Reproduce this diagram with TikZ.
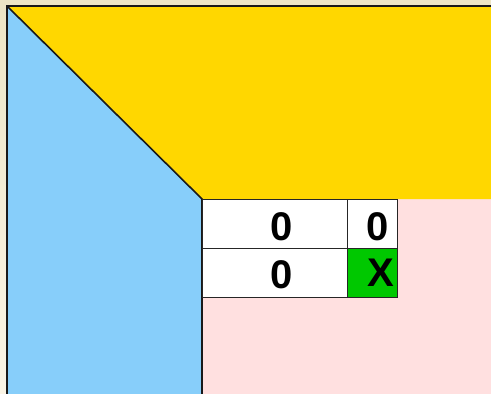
\documentclass[tikz,border=0pt]{standalone}
\usepackage{fontspec}
\setmainfont{Liberation Sans}
\usetikzlibrary{positioning}
\definecolor{bgtop}{HTML}{EDE5C5}
\definecolor{bgbot}{HTML}{FBF5E6}
\definecolor{gold}{HTML}{FFD700}
\definecolor{sky}{HTML}{87CEFA}
\definecolor{rose}{HTML}{FFE0E0}
\definecolor{hit}{HTML}{00C800}

\begin{document}
\begin{tikzpicture}[x=1pt, y=-1pt,
  edge/.style={draw=black!90, line width=1.6pt},
  cell/.style={draw=black!85, line width=1pt, fill=white, inner sep=0pt,
               minimum width=#1, minimum height=49pt, anchor=north west},
  num/.style={font=\fontsize{40}{44}\selectfont\bfseries, inner sep=0pt},
]
\useasboundingbox (0,0) rectangle (491,394);
\shade[top color=bgtop, bottom color=bgbot] (0,0) rectangle (491,394);

% regions
\fill[rose] (202,199) rectangle (491,394);
\fill[gold] (7,6) -- (491,6) -- (491,199) -- (202,199) -- cycle;
\fill[sky]  (7,6) -- (202,199) -- (202,394) -- (7,394) -- cycle;
\draw[edge] (7,394) -- (7,6) -- (491,6);
\draw[edge] (7,6) -- (202,199) -- (202,394);

% table
\node[cell=145pt] (c11) at (202,199) {};
\node[cell=50pt]  (c12) at (347,199) {};
\node[cell=145pt] (c21) at (202,248) {};
\node[cell=50pt, fill=hit] (c22) at (347,248) {};

\node[num] (n11) at (282,226.5) {0};
\node[num] (n12) at (377.5,226.5) {0};
\node[num] (n21) at (282,274.5) {0};
\node[num] (n22) at (381,273) {X};
\end{tikzpicture}
\end{document}
